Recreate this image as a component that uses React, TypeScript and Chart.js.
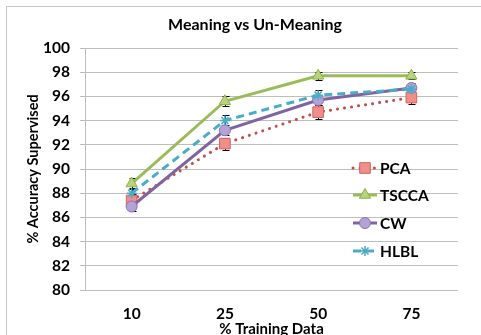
import React, { useEffect, useRef } from "react";
import { Chart, registerables } from "chart.js";

Chart.register(...registerables);

const categories = ["10", "25", "50", "75"];
const pcaValues = [87.4, 92.1, 94.7, 95.9];
const tsccaValues = [88.8, 95.6, 97.7, 97.7];
const cwValues = [86.9, 93.2, 95.7, 96.7];
const hlblValues = [88.0, 94.0, 96.1, 96.6];
const pcaErrors = [0.5, 0.5, 0.55, 0.55];
const tsccaErrors = [0.45, 0.4, 0.35, 0.3];
const cwErrors = [0.4, 0.4, 0.4, 0.4];
const hlblErrors = [0.4, 0.5, 0.45, 0.3];
const seriesNames = ["PCA", "TSCCA", "CW", "HLBL"];
const yMin = 80;
const yMax = 100;
const yStep = 2;
const chartTitle = "Meaning vs Un-Meaning";
const xTitle = "% Training Data";
const yTitle = "% Accuracy Supervised";

const FONT = "Lato, 'DejaVu Sans', sans-serif";

function drawMarker(ctx: CanvasRenderingContext2D, style: string, r: number, x: number, y: number) {
  ctx.beginPath();
  if (style === "rect") {
    const s = Math.SQRT1_2 * r;
    ctx.rect(x - s, y - s, 2 * s, 2 * s);
    ctx.fill();
    ctx.stroke();
  } else if (style === "triangle") {
    const a0 = -Math.PI / 2;
    for (let k = 0; k < 3; k++) {
      const a = a0 + (k * 2 * Math.PI) / 3;
      const px = x + Math.cos(a) * r;
      const py = y + Math.sin(a) * r;
      if (k === 0) ctx.moveTo(px, py);
      else ctx.lineTo(px, py);
    }
    ctx.closePath();
    ctx.fill();
    ctx.stroke();
  } else if (style === "circle") {
    ctx.arc(x, y, r, 0, Math.PI * 2);
    ctx.fill();
    ctx.stroke();
  } else if (style === "star") {
    for (let k = 0; k < 4; k++) {
      const a = (k * Math.PI) / 4;
      ctx.moveTo(x - Math.cos(a) * r, y - Math.sin(a) * r);
      ctx.lineTo(x + Math.cos(a) * r, y + Math.sin(a) * r);
    }
    ctx.stroke();
  }
}

export default function App() {
  const ref = useRef<HTMLCanvasElement | null>(null);

  useEffect(() => {
    if (!ref.current) return;
    const errorSets = [pcaErrors, tsccaErrors, cwErrors, hlblErrors];

    const decorPlugin = {
      id: "decor",
      beforeDraw(chart: any) {
        const ctx = chart.ctx;
        ctx.save();
        ctx.fillStyle = "#ffffff";
        ctx.fillRect(0, 0, chart.width, chart.height);
        ctx.strokeStyle = "#c8c8c8";
        ctx.lineWidth = 1;
        ctx.strokeRect(6.5, 6.5, 520, 400);
        ctx.restore();
      },
      beforeDatasetsDraw(chart: any) {
        const ctx = chart.ctx;
        const xs = chart.scales.x;
        const ys = chart.scales.y;
        ctx.save();
        ctx.strokeStyle = "#000000";
        ctx.lineWidth = 1;
        chart.data.datasets.forEach((ds: any, di: number) => {
          const errs = errorSets[di];
          ds.data.forEach((v: number, i: number) => {
            const x = Math.round(xs.getPixelForValue(i)) + 0.5;
            const yt = Math.round(ys.getPixelForValue(v + errs[i])) + 0.5;
            const yb = Math.round(ys.getPixelForValue(v - errs[i])) + 0.5;
            ctx.beginPath();
            ctx.moveTo(x, yt);
            ctx.lineTo(x, yb);
            ctx.moveTo(x - 3, yt);
            ctx.lineTo(x + 4, yt);
            ctx.moveTo(x - 3, yb);
            ctx.lineTo(x + 4, yb);
            ctx.stroke();
          });
        });
        ctx.restore();
      },
      afterDraw(chart: any) {
        const ctx = chart.ctx;
        const area = chart.chartArea;
        ctx.save();
        ctx.fillStyle = "#000000";
        ctx.textAlign = "center";
        ctx.textBaseline = "middle";
        ctx.font = `bold 16px ${FONT}`;
        ctx.fillText(chartTitle, 255, 25);
        ctx.font = `bold 15px ${FONT}`;
        ctx.fillText(xTitle, (area.left + area.right) / 2, 329);
        ctx.save();
        ctx.font = `bold 14.5px ${FONT}`;
        ctx.translate(33, (area.top + area.bottom) / 2);
        ctx.rotate(-Math.PI / 2);
        ctx.fillText(yTitle, 0, 0);
        ctx.restore();

        // legend
        const rows = [168, 195, 223, 251];
        const x0 = 353;
        const x1 = 377;
        const xm = 365;
        chart.data.datasets.forEach((ds: any, i: number) => {
          const y = rows[i];
          ctx.save();
          ctx.strokeStyle = ds.borderColor;
          ctx.lineWidth = ds.borderWidth;
          ctx.lineCap = ds.borderCapStyle || "butt";
          ctx.setLineDash(ds.borderDash || []);
          ctx.beginPath();
          ctx.moveTo(x0, y);
          ctx.lineTo(x1, y);
          ctx.stroke();
          ctx.restore();
          ctx.save();
          ctx.setLineDash([]);
          ctx.fillStyle = ds.pointBackgroundColor;
          ctx.strokeStyle = ds.pointBorderColor;
          ctx.lineWidth = ds.pointBorderWidth;
          drawMarker(ctx, ds.pointStyle, ds.pointRadius, xm, y);
          ctx.restore();
          ctx.fillStyle = "#000000";
          ctx.textAlign = "left";
          ctx.textBaseline = "middle";
          ctx.font = `bold 15.5px ${FONT}`;
          ctx.fillText(seriesNames[i], 380, y + 1);
        });
        ctx.restore();
      },
    };

    const chart = new Chart(ref.current, {
      type: "line",
      data: {
        labels: categories,
        datasets: [
          {
            label: seriesNames[0],
            data: pcaValues,
            borderColor: "#C0504D",
            borderWidth: 3,
            borderDash: [0.1, 7],
            borderCapStyle: "round",
            pointStyle: "rect",
            pointRadius: 7.5,
            pointBackgroundColor: "#F28E89",
            pointBorderColor: "#D2625E",
            pointBorderWidth: 1,
            order: 3,
            tension: 0,
          },
          {
            label: seriesNames[1],
            data: tsccaValues,
            borderColor: "#9BBB59",
            borderWidth: 3,
            pointStyle: "triangle",
            pointRadius: 6.5,
            pointBackgroundColor: "#B7D47A",
            pointBorderColor: "#8FB04A",
            pointBorderWidth: 1,
            order: 2,
            tension: 0,
          },
          {
            label: seriesNames[2],
            data: cwValues,
            borderColor: "#8064A2",
            borderWidth: 3,
            pointStyle: "circle",
            pointRadius: 5.5,
            pointBackgroundColor: "#B3A2D6",
            pointBorderColor: "#8C74B4",
            pointBorderWidth: 1,
            order: 1,
            tension: 0,
          },
          {
            label: seriesNames[3],
            data: hlblValues,
            borderColor: "#4BACC6",
            borderWidth: 3,
            borderDash: [8, 5],
            pointStyle: "star",
            pointRadius: 5,
            pointBackgroundColor: "#4BACC6",
            pointBorderColor: "#4BACC6",
            pointBorderWidth: 1.5,
            order: 0,
            tension: 0,
          },
        ],
      },
      options: {
        responsive: false,
        animation: false,
        devicePixelRatio: 1,
        layout: { padding: { left: 0, right: 23, top: 48, bottom: 0 } },
        plugins: {
          legend: { display: false },
          title: { display: false },
          tooltip: { enabled: false },
        },
        scales: {
          x: {
            type: "category",
            offset: true,
            grid: { display: false, drawTicks: false, tickLength: 0 },
            border: { display: false },
            ticks: {
              color: "#000000",
              font: { family: FONT, size: 15.5, weight: "bold" },
              padding: 15,
              maxRotation: 0,
            },
            afterFit(s: any) {
              s.height = 45;
            },
          },
          y: {
            min: yMin,
            max: yMax,
            grid: { color: "#bdbdbd", lineWidth: 1, tickLength: 5, drawTicks: true },
            border: { display: true, color: "#bdbdbd", width: 1 },
            ticks: {
              stepSize: yStep,
              color: "#000000",
              font: { family: FONT, size: 15.5, weight: "bold" },
              padding: 10,
            },
            afterFit(s: any) {
              s.width = 85;
            },
          },
        },
      },
      plugins: [decorPlugin],
    } as any);

    return () => chart.destroy();
  }, []);

  return (
    <div style={{ position: "absolute", left: 0, top: 0, width: 481, height: 335, overflow: "hidden" }}>
      <canvas ref={ref} width={481} height={335} style={{ display: "block", width: 481, height: 335 }} />
    </div>
  );
}
